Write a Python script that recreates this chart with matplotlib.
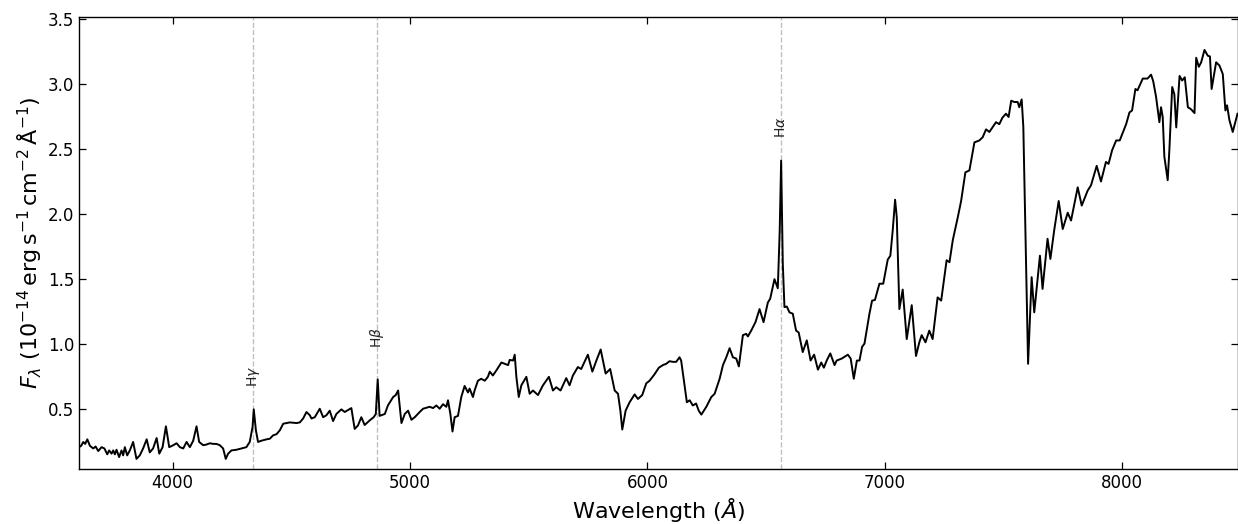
import matplotlib
matplotlib.use("Agg")
import matplotlib.pyplot as plt
import numpy as np

wavelength = [
    3606, 3615, 3624, 3632, 3641, 3652, 3666, 3676, 3687, 3701, 3713, 3725, 3733, 3743, 3750, 3757,
    3764, 3775, 3785, 3792, 3799, 3809, 3820, 3834, 3848, 3862, 3876, 3891, 3904, 3918, 3933, 3944,
    3958, 3972, 3986, 4003, 4017, 4031, 4045, 4059, 4073, 4087, 4101, 4112, 4129, 4143, 4157, 4171,
    4185, 4199, 4213, 4224, 4234, 4248, 4269, 4290, 4311, 4325, 4337, 4342, 4351, 4360, 4375, 4396,
    4410, 4423, 4438, 4452, 4466, 4494, 4522, 4536, 4550, 4564, 4578, 4585, 4599, 4620, 4634, 4648,
    4662, 4676, 4690, 4711, 4725, 4753, 4767, 4781, 4795, 4809, 4830, 4847, 4856, 4864, 4872, 4894,
    4907, 4929, 4940, 4950, 4964, 4978, 4992, 5006, 5020, 5041, 5055, 5083, 5097, 5111, 5125, 5139,
    5153, 5160, 5170, 5179, 5188, 5202, 5216, 5230, 5244, 5251, 5265, 5272, 5286, 5300, 5315, 5328,
    5336, 5349, 5364, 5385, 5399, 5413, 5420, 5434, 5441, 5448, 5458, 5469, 5490, 5504, 5518, 5539,
    5560, 5585, 5602, 5616, 5634, 5658, 5672, 5686, 5707, 5721, 5749, 5768, 5785, 5803, 5824, 5843,
    5862, 5876, 5886, 5894, 5908, 5925, 5946, 5960, 5978, 5995, 6009, 6030, 6048, 6065, 6079, 6093,
    6107, 6121, 6135, 6142, 6156, 6166, 6178, 6191, 6205, 6216, 6227, 6248, 6269, 6283, 6304, 6318,
    6332, 6346, 6360, 6374, 6385, 6402, 6416, 6423, 6437, 6455, 6472, 6489, 6507, 6517, 6535, 6549,
    6557, 6563, 6570, 6577, 6587, 6598, 6612, 6626, 6637, 6654, 6671, 6687, 6702, 6718, 6732, 6743,
    6755, 6770, 6788, 6797, 6818, 6844, 6856, 6869, 6882, 6893, 6904, 6914, 6928, 6935, 6946, 6958,
    6977, 6993, 7012, 7023, 7033, 7043, 7050, 7061, 7075, 7092, 7113, 7131, 7145, 7155, 7171, 7187,
    7201, 7222, 7237, 7260, 7272, 7286, 7307, 7321, 7339, 7356, 7377, 7398, 7412, 7426, 7440, 7468,
    7482, 7495, 7510, 7521, 7532, 7545, 7559, 7566, 7576, 7583, 7592, 7603, 7618, 7629, 7653, 7664,
    7685, 7697, 7713, 7732, 7749, 7770, 7784, 7812, 7829, 7854, 7868, 7892, 7910, 7931, 7942, 7957,
    7974, 7989, 8016, 8030, 8041, 8055, 8064, 8086, 8106, 8121, 8130, 8142, 8156, 8163, 8170, 8177,
    8191, 8198, 8210, 8219, 8227, 8241, 8252, 8263, 8276, 8289, 8304, 8311, 8322, 8332, 8346, 8360,
    8369, 8376, 8395, 8409, 8423, 8434, 8441, 8451, 8465, 8485,
]

flux = [
    0.21, 0.22, 0.25, 0.235, 0.27, 0.22, 0.20, 0.215, 0.18, 0.21, 0.20, 0.155, 0.185, 0.16, 0.185, 0.155,
    0.19, 0.134, 0.185, 0.147, 0.21, 0.147, 0.185, 0.25, 0.12, 0.147, 0.20, 0.27, 0.17, 0.20, 0.28, 0.16,
    0.21, 0.37, 0.21, 0.225, 0.24, 0.21, 0.20, 0.25, 0.21, 0.26, 0.37, 0.25, 0.225, 0.23, 0.24, 0.235,
    0.235, 0.225, 0.20, 0.12, 0.16, 0.185, 0.19, 0.20, 0.21, 0.25, 0.365, 0.50, 0.34, 0.25, 0.26, 0.27,
    0.275, 0.30, 0.31, 0.34, 0.39, 0.40, 0.395, 0.40, 0.43, 0.48, 0.455, 0.43, 0.44, 0.505, 0.44, 0.455,
    0.49, 0.41, 0.465, 0.50, 0.48, 0.51, 0.35, 0.377, 0.44, 0.38, 0.415, 0.44, 0.465, 0.73, 0.45, 0.465,
    0.53, 0.595, 0.61, 0.645, 0.395, 0.465, 0.49, 0.42, 0.44, 0.48, 0.505, 0.52, 0.51, 0.53, 0.505, 0.54,
    0.52, 0.57, 0.465, 0.33, 0.44, 0.45, 0.595, 0.68, 0.63, 0.66, 0.595, 0.645, 0.72, 0.735, 0.72, 0.75,
    0.79, 0.76, 0.80, 0.86, 0.85, 0.84, 0.88, 0.875, 0.92, 0.75, 0.595, 0.685, 0.75, 0.62, 0.645, 0.61,
    0.685, 0.75, 0.645, 0.67, 0.645, 0.74, 0.685, 0.76, 0.825, 0.81, 0.92, 0.79, 0.875, 0.96, 0.775, 0.81,
    0.645, 0.62, 0.49, 0.345, 0.49, 0.555, 0.615, 0.58, 0.61, 0.70, 0.72, 0.77, 0.82, 0.84, 0.85, 0.87,
    0.865, 0.865, 0.90, 0.875, 0.685, 0.555, 0.57, 0.53, 0.545, 0.49, 0.46, 0.52, 0.595, 0.62, 0.735, 0.84,
    0.90, 0.97, 0.90, 0.89, 0.83, 1.07, 1.08, 1.06, 1.105, 1.17, 1.27, 1.17, 1.32, 1.35, 1.50, 1.43,
    1.87, 2.41, 1.62, 1.285, 1.29, 1.245, 1.235, 1.105, 1.09, 0.94, 1.03, 0.875, 0.92, 0.805, 0.86, 0.82,
    0.875, 0.93, 0.84, 0.875, 0.89, 0.92, 0.89, 0.735, 0.875, 0.875, 0.98, 1.005, 1.16, 1.235, 1.335, 1.34,
    1.465, 1.465, 1.65, 1.68, 1.875, 2.11, 1.975, 1.27, 1.42, 1.04, 1.30, 0.91, 1.015, 1.07, 1.015, 1.105,
    1.04, 1.36, 1.335, 1.645, 1.63, 1.80, 1.975, 2.10, 2.32, 2.335, 2.55, 2.565, 2.59, 2.65, 2.63, 2.705,
    2.69, 2.74, 2.77, 2.745, 2.87, 2.86, 2.86, 2.82, 2.88, 2.67, 1.85, 0.85, 1.515, 1.245, 1.68, 1.425,
    1.81, 1.655, 1.875, 2.10, 1.885, 2.01, 1.95, 2.205, 2.065, 2.18, 2.22, 2.37, 2.25, 2.40, 2.385, 2.49,
    2.565, 2.565, 2.69, 2.78, 2.795, 2.96, 2.95, 3.04, 3.04, 3.07, 3.02, 2.90, 2.705, 2.82, 2.745, 2.44,
    2.26, 2.49, 2.975, 2.92, 2.665, 3.06, 3.025, 3.05, 2.82, 2.805, 2.775, 3.20, 3.13, 3.165, 3.26, 3.215,
    3.21, 2.96, 3.165, 3.14, 3.075, 2.795, 2.835, 2.72, 2.63, 2.77,
]

line_names = [r"H$\gamma$", r"H$\beta$", r"H$\alpha$"]
line_waves = [4340, 4861, 6563]
label_heights = [0.67, 0.975, 2.58]

x_ticks = [4000, 5000, 6000, 7000, 8000]
y_ticks = [0.5, 1.0, 1.5, 2.0, 2.5, 3.0, 3.5]

W, H = 1238, 524
fig = plt.figure(figsize=(W / 100, H / 100), dpi=100)
ax = fig.add_axes([79 / W, (H - 469.3) / H, (1237.5 - 79) / W, (469.3 - 16.7) / H])

for w in line_waves:
    ax.axvline(w, color="#bfbfbf", linestyle="--", linewidth=1.0, zorder=1)

ax.plot(wavelength, flux, color="black", linewidth=1.4, zorder=2)

for name, w, h in zip(line_names, line_waves, label_heights):
    ax.text(w, h, name, rotation=90, ha="center", va="bottom", fontsize=10, color="#222222")

ax.set_xlim(wavelength[0], wavelength[-1])
ax.set_ylim(0.04, 3.515)
ax.set_xticks(x_ticks)
ax.set_yticks(y_ticks)
ax.tick_params(direction="in", top=True, right=True, length=5, width=0.9, labelsize=12)
for s in ax.spines.values():
    s.set_linewidth(1.0)

ax.set_xlabel(r"Wavelength ($Å$)", fontsize=16, labelpad=3)
ax.set_ylabel(r"$F_\lambda$ ($10^{-14}\,\mathrm{erg\,s^{-1}\,cm^{-2}\,\AA^{-1}}$)", fontsize=16, labelpad=3)

fig.savefig("out.png", dpi=100)
